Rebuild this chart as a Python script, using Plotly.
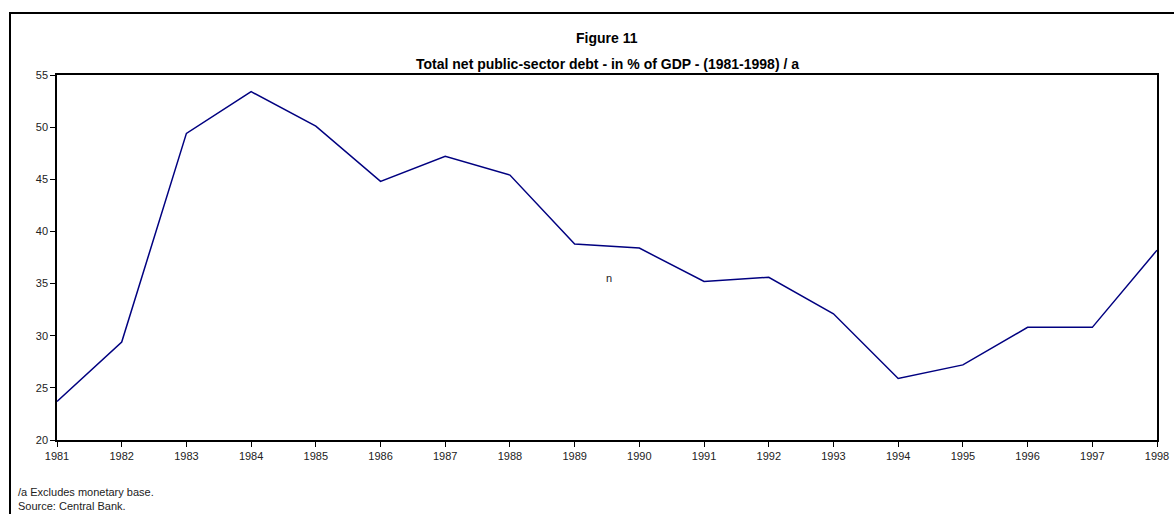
import plotly.graph_objects as go

years = list(range(1981, 1999))
debt = [23.7, 29.4, 49.4, 53.4, 50.1, 44.8, 47.2, 45.4, 38.8, 38.4,
        35.2, 35.6, 32.1, 25.9, 27.2, 30.8, 30.8, 38.2]
y_ticks = [20, 25, 30, 35, 40, 45, 50, 55]

title1 = "Figure 11"
title2 = "Total net public-sector debt - in % of GDP - (1981-1998) / a"
note1 = "/a Excludes monetary base."
note2 = "Source: Central Bank."

FONT = "Liberation Sans, Arial, sans-serif"
W, H = 1174, 514
L, R, T, B = 57, 17, 75, 74
PW = W - L - R
PH = H - T - B

fig = go.Figure()
fig.add_trace(go.Scatter(x=years, y=debt, mode="lines",
                         line=dict(color="#000080", width=1.5),
                         showlegend=False, hoverinfo="x+y"))

fig.update_layout(
    width=W, height=H,
    margin=dict(l=L, r=R, t=T, b=B, autoexpand=False),
    paper_bgcolor="white", plot_bgcolor="white",
    font=dict(family=FONT, size=11, color="#222"),
    xaxis=dict(range=[1981, 1998], tickmode="array", tickvals=years,
               ticktext=[str(y) for y in years],
               showgrid=False, zeroline=False, automargin=False,
               ticklabeloverflow="allow",
               showline=True, linecolor="black", linewidth=1.5, mirror=True,
               ticks="outside", ticklen=5, tickcolor="black", tickwidth=1,
               tickfont=dict(size=11, color="#222")),
    yaxis=dict(range=[20, 55], tickmode="array", tickvals=y_ticks,
               ticktext=[str(v) for v in y_ticks],
               showgrid=False, zeroline=False, automargin=False,
               showline=True, linecolor="black", linewidth=1.5, mirror=True,
               ticks="outside", ticklen=5, tickcolor="black", tickwidth=1,
               tickfont=dict(size=11, color="#222")),
    shapes=[dict(type="rect", xref="paper", yref="paper",
                 x0=(10 - L) / PW, x1=(W + 20 - L) / PW,
                 y0=(T + PH - (H + 20)) / PH, y1=(T + PH - 13) / PH,
                 line=dict(color="black", width=2), layer="below")],
    annotations=[
        dict(text="<b>" + title1 + "</b>", xref="paper", yref="paper",
             x=0.5, y=(T + PH - 38) / PH, xanchor="center", yanchor="middle",
             showarrow=False, font=dict(size=14, color="black", family=FONT)),
        dict(text="<b>" + title2 + "</b>", xref="paper", yref="paper",
             x=0.5, y=(T + PH - 64) / PH, xanchor="center", yanchor="middle",
             showarrow=False, font=dict(size=14, color="black", family=FONT)),
        dict(text="n", xref="x", yref="y", x=1989.53, y=35.5,
             showarrow=False, font=dict(size=11, color="#222")),
        dict(text=note1, xref="paper", yref="paper",
             x=(16 - L) / PW, y=(T + PH - 492) / PH, xanchor="left", yanchor="middle",
             showarrow=False, font=dict(size=11, color="#222")),
        dict(text=note2, xref="paper", yref="paper",
             x=(16 - L) / PW, y=(T + PH - 506) / PH, xanchor="left", yanchor="middle",
             showarrow=False, font=dict(size=11, color="#222")),
    ],
)

fig.write_html("out.html")
